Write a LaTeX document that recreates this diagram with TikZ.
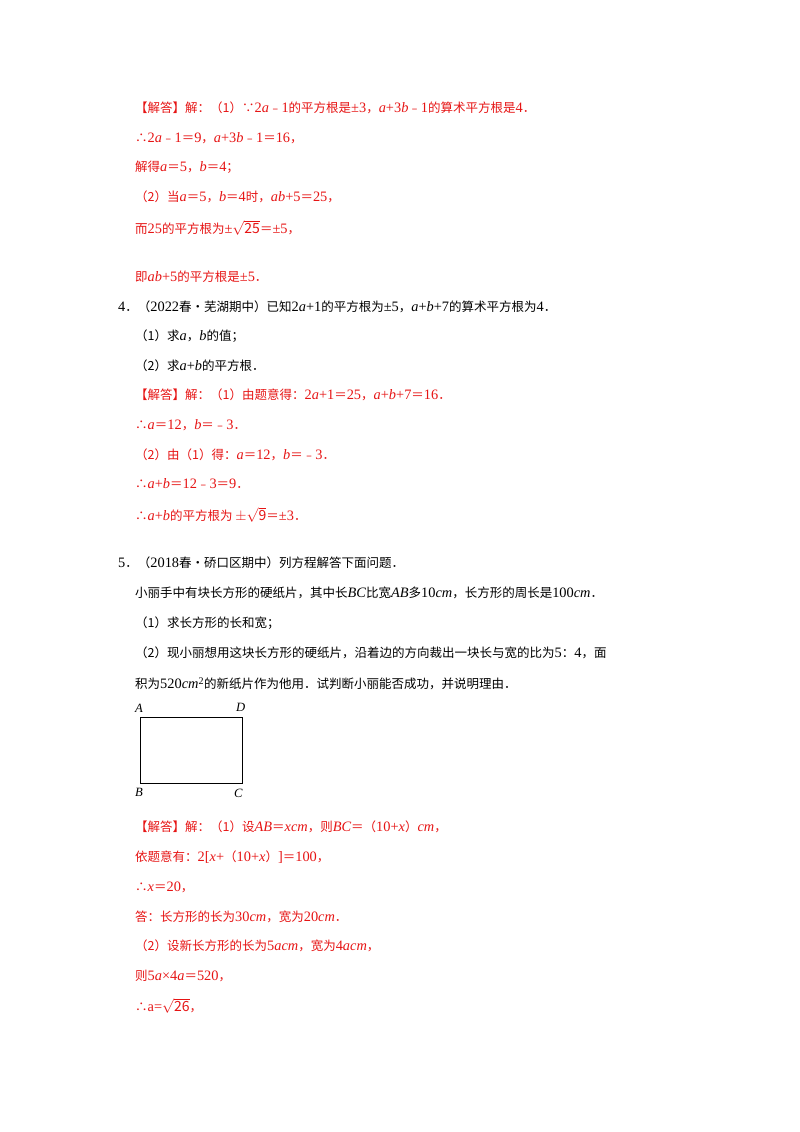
\documentclass[tikz,border=0pt]{standalone}
\usepackage{fontspec}
\setmainfont{Noto Sans CJK SC}
\newfontfamily\lser[Scale=1.15]{Liberation Serif}
\newcommand\vv[1]{{\lser\itshape #1}}
\newcommand\nn[1]{{\lser #1}}
\newcommand\rt[1]{{\fontsize{14}{15}\selectfont$\sqrt{\mathrm{#1}}$}}
\definecolor{ans}{RGB}{230,20,20}
\begin{document}
\begin{tikzpicture}[x=1pt,y=-1pt,
  t/.style={anchor=west,inner sep=0pt,font=\fontsize{12.5}{15}\selectfont},
  r/.style={t,text=ans}]
\useasboundingbox (0,0) rectangle (800,1132);
\node[r] (l1) at (135,108) {【解答】解：（1）∵\nn{2}\vv{a}﹣\nn{1}的平方根是\nn{±3}，\vv{a}\nn{+3}\vv{b}﹣\nn{1}的算术平方根是\nn{4}．};
\node[r] (l2) at (135,138) {∴\nn{2}\vv{a}﹣\nn{1}＝\nn{9}，\vv{a}\nn{+3}\vv{b}﹣\nn{1}＝\nn{16}，};
\node[r] (l3) at (135,167) {解得\vv{a}＝\nn{5}，\vv{b}＝\nn{4}；};
\node[r] (l4) at (135,197) {（2）当\vv{a}＝\nn{5}，\vv{b}＝\nn{4}时，\vv{ab}\nn{+5}＝\nn{25}，};
\node[r] (l5) at (135,228) {而\nn{25}的平方根为\nn{±}\rt{25}＝\nn{±5}，};
\node[r] (l6) at (135,277) {即\vv{ab}\nn{+5}的平方根是\nn{±5}．};
\node[t] (q4) at (118,307) {\nn{4}．（\nn{2022}春•芜湖期中）已知\nn{2}\vv{a}\nn{+1}的平方根为\nn{±5}，\vv{a}\nn{+}\vv{b}\nn{+7}的算术平方根为\nn{4}．};
\node[t] (q41) at (135,336) {（1）求\vv{a}，\vv{b}的值；};
\node[t] (q42) at (135,366) {（2）求\vv{a}\nn{+}\vv{b}的平方根．};
\node[r] (a1) at (135,395) {【解答】解：（1）由题意得：\nn{2}\vv{a}\nn{+1}＝\nn{25}，\vv{a}\nn{+}\vv{b}\nn{+7}＝\nn{16}．};
\node[r] (a2) at (135,425) {∴\vv{a}＝\nn{12}，\vv{b}＝﹣\nn{3}．};
\node[r] (a3) at (135,455) {（2）由（1）得：\vv{a}＝\nn{12}，\vv{b}＝﹣\nn{3}．};
\node[r] (a4) at (135,484) {∴\vv{a}\nn{+}\vv{b}＝\nn{12}﹣\nn{3}＝\nn{9}．};
\node[r] (a5) at (135,515) {∴\vv{a}\nn{+}\vv{b}的平方根为 {\fontsize{14}{15}\selectfont$\pm$}\rt{9}＝\nn{±3}．};
\node[t] (q5) at (118,563) {\nn{5}．（\nn{2018}春•硚口区期中）列方程解答下面问题．};
\node[t] (p1) at (135,593) {小丽手中有块长方形的硬纸片，其中长\vv{BC}比宽\vv{AB}多\nn{10}\vv{cm}，长方形的周长是\nn{100}\vv{cm}．};
\node[t] (p2) at (135,623) {（1）求长方形的长和宽；};
\node[t] (p3) at (135,653) {（2）现小丽想用这块长方形的硬纸片，沿着边的方向裁出一块长与宽的比为\nn{5}：\nn{4}，面};
\node[t] (p4) at (135,684) {积为\nn{520}\vv{cm}\textsuperscript{\nn{2}}的新纸片作为他用．试判断小丽能否成功，并说明理由．};
\draw[line width=0.8pt] (140,717) rectangle (242,783);
\node[t,font=\fontsize{11}{12}\selectfont] (A) at (135,708) {\vv{A}};
\node[t,font=\fontsize{11}{12}\selectfont] (D) at (236,707) {\vv{D}};
\node[t,font=\fontsize{11}{12}\selectfont] (B) at (135,792) {\vv{B}};
\node[t,font=\fontsize{11}{12}\selectfont] (C) at (234,793) {\vv{C}};
\node[r] (b1) at (135,827) {【解答】解：（1）设\vv{AB}＝\vv{xcm}，则\vv{BC}＝（\nn{10+}\vv{x}）\vv{cm}，};
\node[r] (b2) at (135,857) {依题意有：\nn{2[}\vv{x}\nn{+}（\nn{10+}\vv{x}）\nn{]}＝\nn{100}，};
\node[r] (b3) at (135,887) {∴\vv{x}＝\nn{20}，};
\node[r] (b4) at (135,917) {答：长方形的长为\nn{30}\vv{cm}，宽为\nn{20}\vv{cm}．};
\node[r] (b5) at (135,946) {（2）设新长方形的长为\nn{5}\vv{acm}，宽为\nn{4}\vv{acm}，};
\node[r] (b6) at (135,976) {则\nn{5}\vv{a}\nn{×4}\vv{a}＝\nn{520}，};
\node[r] (b7) at (135,1006) {∴\nn{a=}\rt{26}，};
\end{tikzpicture}
\end{document}
